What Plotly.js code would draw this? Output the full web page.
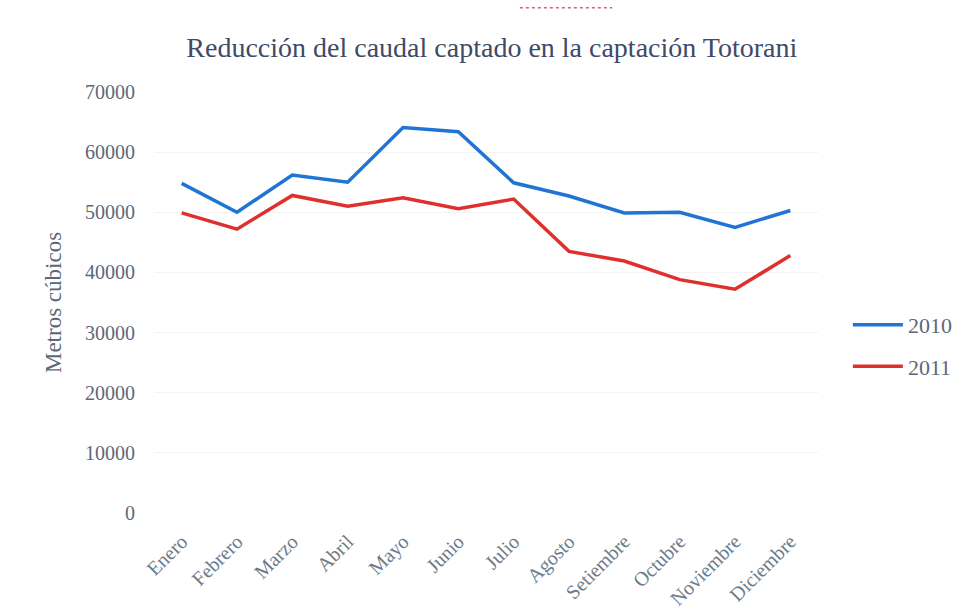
<!DOCTYPE html>
<html>
<head>
<meta charset="utf-8">
<script src="https://cdn.plot.ly/plotly-3.0.1.min.js"></script>
<style>html,body{margin:0;padding:0;background:#fff;}#chart{width:970px;height:613px;}</style>
</head>
<body>
<div id="chart"></div>
<script>
const months = ["Enero","Febrero","Marzo","Abril","Mayo","Junio","Julio","Agosto","Setiembre","Octubre","Noviembre","Diciembre"];
const values2010 = [54800, 50000, 56200, 55000, 64100, 63400, 54900, 52700, 49900, 50000, 47500, 50300];
const values2011 = [49900, 47200, 52800, 51000, 52400, 50600, 52200, 43500, 41900, 38800, 37200, 42800];
const yTicks = [0, 10000, 20000, 30000, 40000, 50000, 60000, 70000];

const traces = [
  {x: months, y: values2010, name: "2010", type: "scatter", mode: "lines",
   line: {color: "#1f74d4", width: 3.5}, legendgroup: "a"},
  {x: months, y: values2011, name: "2011", type: "scatter", mode: "lines",
   line: {color: "#e0302e", width: 3.5}, legendgroup: "b"}
];

const layout = {
  width: 970, height: 613,
  margin: {l: 154, r: 152, t: 92, b: 100},
  paper_bgcolor: "#ffffff", plot_bgcolor: "#ffffff",
  font: {family: "Liberation Serif, serif", color: "#5b6878"},
  title: {text: "Reducción del caudal captado en la captación Totorani",
          x: 0.507, xanchor: "center", y: 0.923, yanchor: "middle",
          font: {family: "Liberation Serif, serif", size: 28, color: "#3e4a68"}},
  xaxis: {type: "category", tickangle: -45, showgrid: false, zeroline: false,
          showline: false, ticks: "", range: [-0.5, 11.5], ticklabelstandoff: 12,
          tickfont: {size: 20, color: "#6b7b8c"}},
  yaxis: {range: [0, 70000], tickvals: yTicks, ticktext: yTicks.map(String),
          showgrid: true, gridcolor: "#f3f3f3", zeroline: false, showline: false,
          ticks: "", ticklen: 0, ticklabelstandoff: 18, tickfont: {size: 20, color: "#5b6878"},
          title: {text: "Metros cúbicos", standoff: 16,
                  font: {size: 23, color: "#5b6878"}}},
  legend: {x: 1.045, xanchor: "left", y: 0.397, yanchor: "middle",
           traceorder: "grouped", tracegroupgap: 10,
           font: {size: 22, color: "#5b6878"}, itemwidth: 50},
  shapes: [{type: "line", xref: "paper", yref: "paper", x0: 0.551, x1: 0.69, y0: 1.2, y1: 1.2,
            line: {color: "#e05a78", width: 1.5, dash: "dot"}}]
};

Plotly.newPlot("chart", traces, layout, {displayModeBar: false, staticPlot: true});
</script>
</body>
</html>
